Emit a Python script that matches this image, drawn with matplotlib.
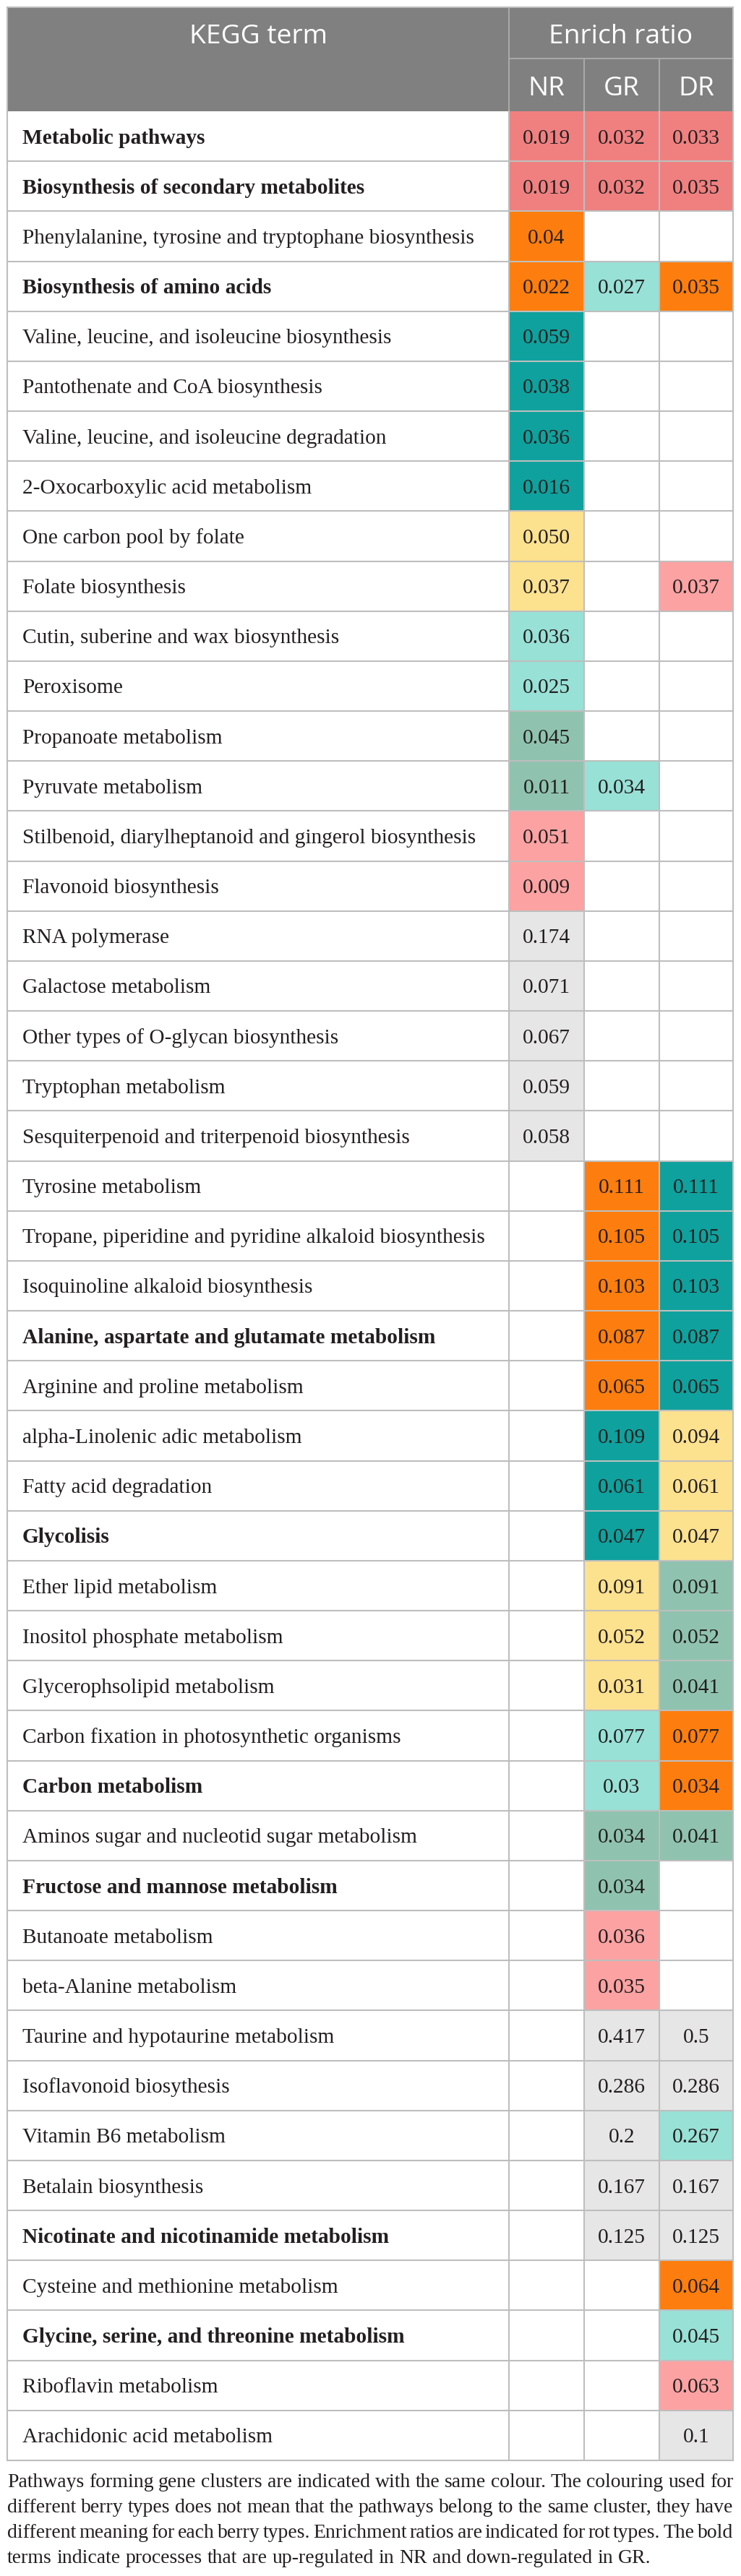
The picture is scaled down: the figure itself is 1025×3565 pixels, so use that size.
import matplotlib
matplotlib.use("Agg")
import matplotlib.pyplot as plt
from matplotlib.patches import Rectangle

# ---------------- data ----------------
terms = [
    "Metabolic pathways",
    "Biosynthesis of secondary metabolites",
    "Phenylalanine, tyrosine and tryptophane biosynthesis",
    "Biosynthesis of amino acids",
    "Valine, leucine, and isoleucine biosynthesis",
    "Pantothenate and CoA biosynthesis",
    "Valine, leucine, and isoleucine degradation",
    "2-Oxocarboxylic acid metabolism",
    "One carbon pool by folate",
    "Folate biosynthesis",
    "Cutin, suberine and wax biosynthesis",
    "Peroxisome",
    "Propanoate metabolism",
    "Pyruvate metabolism",
    "Stilbenoid, diarylheptanoid and gingerol biosynthesis",
    "Flavonoid biosynthesis",
    "RNA polymerase",
    "Galactose metabolism",
    "Other types of O-glycan biosynthesis",
    "Tryptophan metabolism",
    "Sesquiterpenoid and triterpenoid biosynthesis",
    "Tyrosine metabolism",
    "Tropane, piperidine and pyridine alkaloid biosynthesis",
    "Isoquinoline alkaloid biosynthesis",
    "Alanine, aspartate and glutamate metabolism",
    "Arginine and proline metabolism",
    "alpha-Linolenic adic metabolism",
    "Fatty acid degradation",
    "Glycolisis",
    "Ether lipid metabolism",
    "Inositol phosphate metabolism",
    "Glycerophsolipid metabolism",
    "Carbon fixation in photosynthetic organisms",
    "Carbon metabolism",
    "Aminos sugar and nucleotid sugar metabolism",
    "Fructose and mannose metabolism",
    "Butanoate metabolism",
    "beta-Alanine metabolism",
    "Taurine and hypotaurine metabolism",
    "Isoflavonoid biosythesis",
    "Vitamin B6 metabolism",
    "Betalain biosynthesis",
    "Nicotinate and nicotinamide metabolism",
    "Cysteine and methionine metabolism",
    "Glycine, serine, and threonine metabolism",
    "Riboflavin metabolism",
    "Arachidonic acid metabolism",
]
bold_terms = [
    "Metabolic pathways",
    "Biosynthesis of secondary metabolites",
    "Biosynthesis of amino acids",
    "Alanine, aspartate and glutamate metabolism",
    "Glycolisis",
    "Carbon metabolism",
    "Fructose and mannose metabolism",
    "Nicotinate and nicotinamide metabolism",
    "Glycine, serine, and threonine metabolism",
]
nr_vals = ["0.019", "0.019", "0.04", "0.022", "0.059", "0.038", "0.036", "0.016",
           "0.050", "0.037", "0.036", "0.025", "0.045", "0.011", "0.051", "0.009",
           "0.174", "0.071", "0.067", "0.059", "0.058"] + [""] * 26
gr_vals = ["0.032", "0.032", "", "0.027"] + [""] * 9 + ["0.034"] + [""] * 7 + [
           "0.111", "0.105", "0.103", "0.087", "0.065", "0.109", "0.061", "0.047",
           "0.091", "0.052", "0.031", "0.077", "0.03", "0.034", "0.034", "0.036",
           "0.035", "0.417", "0.286", "0.2", "0.167", "0.125", "", "", "", ""]
dr_vals = ["0.033", "0.035", "", "0.035"] + [""] * 5 + ["0.037"] + [""] * 11 + [
           "0.111", "0.105", "0.103", "0.087", "0.065", "0.094", "0.061", "0.047",
           "0.091", "0.052", "0.041", "0.077", "0.034", "0.041", "", "", "",
           "0.5", "0.286", "0.267", "0.167", "0.125", "0.064", "0.045", "0.063", "0.1"]
# cluster colour codes: S salmon, O orange, T teal, A aqua, Y yellow, P pink, G sage, L grey
nr_cols = list("SSOOTTTTYYAAGGPPLLLLL") + [""] * 26
gr_cols = ["S", "S", "", "A"] + [""] * 9 + ["A"] + [""] * 7 + list("OOOOOTTTYYYAAGGPPLLLLL") + [""] * 4
dr_cols = ["S", "S", "", "O"] + [""] * 5 + ["P"] + [""] * 11 + list("TTTTTYYYGGGOOG") + [""] * 3 + list("LLALLOAPL")

col_headers = ["NR", "GR", "DR"]
footnote = [
    "Pathways forming gene clusters are indicated with the same colour. The colouring used for",
    "different berry types does not mean that the pathways belong to the same cluster, they have",
    "different meaning for each berry types. Enrichment ratios are indicated for rot types. The bold",
    "terms indicate processes that are up-regulated in NR and down-regulated in GR.",
]

palette = {
    "S": "#F08080", "O": "#FD7E0E", "T": "#0FA19D", "A": "#98E1D6",
    "Y": "#FCE18F", "P": "#FDA2A2", "G": "#8FC3AF", "L": "#E6E6E6",
}

# ---------------- layout ----------------
W, H = 1025, 3566
fig = plt.figure(figsize=(W / 100, H / 100), dpi=100)
ax = fig.add_axes([0, 0, 1, 1])
ax.set_xlim(0, W)
ax.set_ylim(H, 0)
ax.axis("off")

fig.canvas.draw()
rend = fig.canvas.get_renderer()

serif = ["Liberation Serif", "DejaVu Serif"]
sans = ["Open Sans", "DejaVu Sans"]


def wid(s, fam, size, weight="normal"):
    t = ax.text(0, 0, s, family=fam, fontsize=size, fontweight=weight)
    w = t.get_window_extent(rend).width
    t.remove()
    return w


# fit font sizes to the measured text widths of the reference
fs = 20 * 641 / wid("Tropane, piperidine and pyridine alkaloid biosynthesis", serif, 20)
hfs = 24 * (193 + 198) / (wid("KEGG term", sans, 24) + wid("Enrich ratio", sans, 24))
ffs = 20 * 891 / wid(footnote[-1], serif, 20)

X = [10, 704, 808, 912, 1014]
top, hmid, hbot = 11, 82, 155
tbot = 3406
n = len(terms)
rh = (tbot - hbot) / n

txtc = "#231F20"
grid_c = "#BEBEBE"
lw = 1.5

# header
ax.add_patch(Rectangle((X[0], top), X[4] - X[0], hbot - top, facecolor="#808080", edgecolor="none"))
hl = "#A8A8A8"
ax.plot([X[1], X[1]], [top, hbot], color=hl, lw=lw)
ax.plot([X[1], X[4]], [hmid, hmid], color=hl, lw=lw)
for xx in X[2:4]:
    ax.plot([xx, xx], [hmid, hbot], color=hl, lw=lw)
ax.text((X[0] + X[1]) / 2, 60, "KEGG term", family=sans, fontsize=hfs, color="white",
        ha="center", va="baseline")
ax.text((X[1] + X[4]) / 2, 60, "Enrich ratio", family=sans, fontsize=hfs, color="white",
        ha="center", va="baseline")
for j, h in enumerate(col_headers):
    ax.text((X[j + 1] + X[j + 2]) / 2, 132, h, family=sans, fontsize=hfs, color="white",
            ha="center", va="baseline")

# body
cols_vals = [nr_vals, gr_vals, dr_vals]
cols_cols = [nr_cols, gr_cols, dr_cols]
for i, term in enumerate(terms):
    y0 = hbot + i * rh
    yb = y0 + rh / 2 + 9
    ax.text(31, yb, term, family=serif, fontsize=fs, color=txtc, ha="left", va="baseline",
            fontweight="bold" if term in bold_terms else "normal")
    for j in range(3):
        c = cols_cols[j][i]
        if c:
            ax.add_patch(Rectangle((X[j + 1], y0), X[j + 2] - X[j + 1], rh,
                                   facecolor=palette[c], edgecolor="none"))
        v = cols_vals[j][i]
        if v:
            ax.text((X[j + 1] + X[j + 2]) / 2, yb, v, family=serif, fontsize=fs,
                    color=txtc, ha="center", va="baseline")

# grid
for i in range(1, n + 1):
    y = hbot + i * rh
    ax.plot([X[0], X[4]], [y, y], color=grid_c, lw=lw, zorder=3)
for xx in X:
    ax.plot([xx, xx], [hbot, tbot], color=grid_c, lw=lw, zorder=3)
ax.plot([X[0], X[0]], [top, hbot], color=grid_c, lw=lw, zorder=3)
ax.plot([X[4], X[4]], [top, hbot], color=grid_c, lw=lw, zorder=3)
ax.plot([X[0], X[4]], [top, top], color=grid_c, lw=lw, zorder=3)

# footnote (justified)
base = [3442, 3477, 3512, 3547]
space_w = wid("a b", serif, ffs) - wid("ab", serif, ffs)
for k, line in enumerate(footnote):
    words = line.split(" ")
    ws = [wid(w, serif, ffs) for w in words]
    if k < len(footnote) - 1:
        gap = (X[4] - X[0] - sum(ws)) / (len(words) - 1)
    else:
        gap = space_w
    x = X[0]
    for w, ww in zip(words, ws):
        ax.text(x, base[k], w, family=serif, fontsize=ffs, color=txtc, ha="left", va="baseline")
        x += ww + gap

fig.savefig("out.png", dpi=100, facecolor="white")
